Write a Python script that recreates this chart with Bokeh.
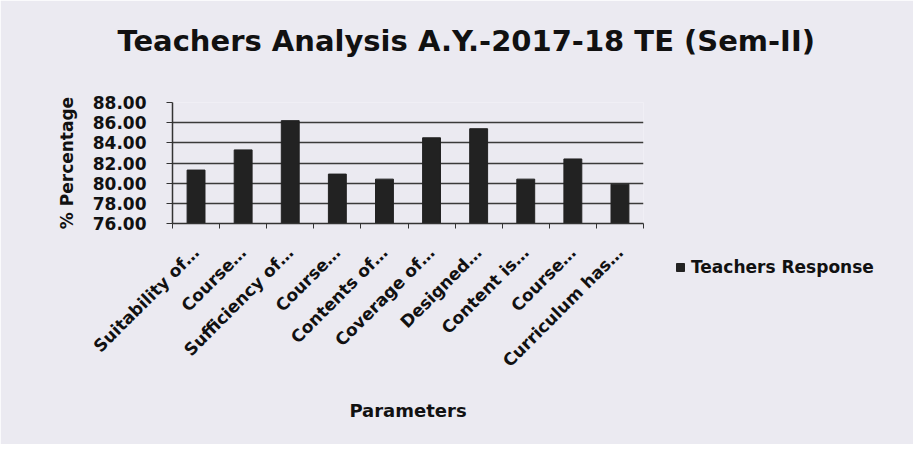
import math
from bokeh.plotting import figure
from bokeh.models import Range1d, FixedTicker, Legend, LegendItem, NumeralTickFormatter, Title
from bokeh.embed import file_html
from bokeh.resources import INLINE

categories = ["Suitability of\u2026", "Course\u2026", "Sufficiency of\u2026", "Course\u2026",
              "Contents of\u2026", "Coverage of\u2026", "Designed\u2026", "Content is\u2026",
              "Course\u2026", "Curriculum has\u2026"]
teachers_response = [81.3, 83.3, 86.2, 80.9, 80.4, 84.5, 85.4, 80.4, 82.4, 79.9]
y_ticks = [76, 78, 80, 82, 84, 86, 88]
series_name = "Teachers Response"

BG = "#ebeaf1"
FONT = "DejaVu Sans"
TXT = "#111111"
BAR = "#222222"
W, H = 905, 444
FL, FR, FT, FB = 172, 643, 102, 223  # plot-area edges in pixels

positions = list(range(1, len(categories) + 1))

p = figure(frame_width=FR - FL, frame_height=FB - FT, output_backend="svg", toolbar_location=None,
           x_range=Range1d(0.5, len(categories) + 0.5), y_range=Range1d(76, 88),
           min_border_left=FL, min_border_right=W - FR, min_border_top=FT,
           min_border_bottom=H - FB)
p.background_fill_color = BG
p.border_fill_color = BG
p.outline_line_color = None

r = p.vbar(x=positions, top=teachers_response, bottom=76, width=0.38,
           fill_color=BAR, line_color=BAR)

p.title.text = "Teachers Analysis A.Y.-2017-18  TE (Sem-II)"
p.title.text_font = FONT
p.title.text_font_size = "29px"
p.title.text_font_style = "bold"
p.title.text_color = TXT
p.title.align = "left"
p.title.offset = -55
p.title.standoff = 0
# blank spacer between the title and the plot area
p.add_layout(Title(text=" ", text_font_size="30px", standoff=10), "above")

# x axis
xa = p.xaxis[0]
xa.ticker = FixedTicker(ticks=positions, minor_ticks=[i + 0.5 for i in range(0, len(categories) + 1)])
xa.major_label_overrides = {i: c for i, c in zip(positions, categories)}
xa.major_label_orientation = math.pi / 4
xa.major_label_text_font = FONT
xa.major_label_text_font_size = "17px"
xa.major_label_text_font_style = "bold"
xa.major_label_text_color = TXT
xa.major_label_standoff = 20
xa.major_tick_line_color = None
xa.minor_tick_out = 5
xa.minor_tick_in = 0
xa.minor_tick_line_color = "#333333"
xa.axis_line_color = "#333333"
xa.axis_line_width = 1.5
xa.axis_label = "Parameters"
xa.axis_label_text_font = FONT
xa.axis_label_text_font_size = "18px"
xa.axis_label_text_font_style = "bold"
xa.axis_label_text_color = TXT
xa.axis_label_standoff = 19

# y axis
ya = p.yaxis[0]
ya.ticker = FixedTicker(ticks=y_ticks, minor_ticks=[])
ya.formatter = NumeralTickFormatter(format="0.00")
ya.major_label_text_font = FONT
ya.major_label_text_font_size = "17px"
ya.major_label_text_font_style = "bold"
ya.major_label_text_color = TXT
ya.major_label_standoff = 20
ya.major_tick_out = 6
ya.major_tick_in = 0
ya.major_tick_line_color = "#333333"
ya.minor_tick_line_color = None
ya.axis_line_color = "#333333"
ya.axis_line_width = 1.5
ya.axis_label = "% Percentage"
ya.axis_label_text_font = FONT
ya.axis_label_text_font_size = "17px"
ya.axis_label_text_font_style = "bold"
ya.axis_label_text_color = TXT
ya.axis_label_standoff = 13

p.xgrid.grid_line_color = None
p.ygrid.grid_line_color = "#3a3a3a"
p.ygrid.grid_line_width = 1.6

legend = Legend(items=[LegendItem(label=series_name, renderers=[r])], location="top_left")
legend.background_fill_alpha = 0
legend.border_line_color = None
legend.padding = 0
legend.margin = 32
legend.glyph_width = 10
legend.glyph_height = 10
legend.label_standoff = 6
legend.label_text_font = FONT
legend.label_text_font_size = "17px"
legend.label_text_font_style = "bold"
legend.label_text_color = TXT
legend.title = " "
legend.title_text_font_size = "10px"
legend.title_standoff = 112
p.add_layout(legend, "right")

open("out.html", "w").write(file_html(p, INLINE))
